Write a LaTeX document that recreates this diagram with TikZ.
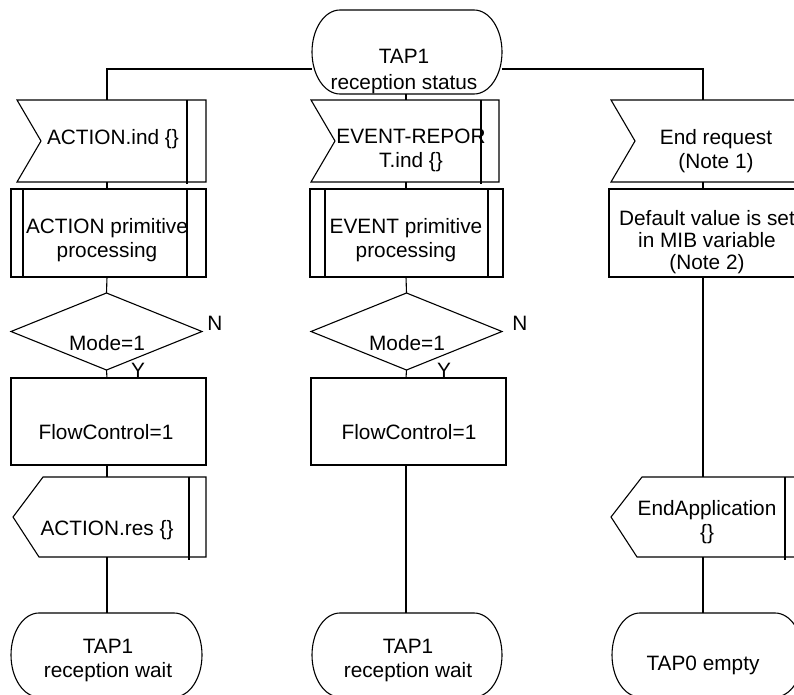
\documentclass[tikz,border=0pt]{standalone}
\usepackage{fontspec}
\setmainfont{Liberation Sans}
\usetikzlibrary{shapes.geometric}

\begin{document}
\begin{tikzpicture}[x=1pt, y=-1pt, line width=1.1pt, line join=miter,
  every node/.style={inner sep=0pt, outer sep=0pt, font=\fontsize{20.8}{24}\selectfont},
  sym/.style={draw=none},
  box/.style={draw},
  term/.style={draw=none, minimum height=84pt},
  dec/.style={draw, diamond, minimum height=77pt},
  txt/.style={align=center}]

  %% ════ 列的竖线位置 ════
  \coordinate (c1) at (107,0);
  \coordinate (c2) at (406,0);
  \coordinate (c3) at (703,0);

  %% ════ 顶部状态 ════
  \node[term, minimum width=190pt] (tap) at (407,52) {};

  %% ════ 第一列 ════
  \node[sym, minimum width=189pt, minimum height=82pt] (sig1) at (111.5,141) {};
  \node[box, minimum width=195pt, minimum height=88pt] (proc1) at (108.5,233) {};
  \node[dec, minimum width=191pt] (dec1) at (106.5,331.5) {};
  \node[box, minimum width=195pt, minimum height=87pt] (task1) at (108.5,421.5) {};
  \node[sym, minimum width=193pt, minimum height=80pt] (out1) at (109.5,517) {};
  \node[term, minimum width=191pt] (end1) at (106.5,655) {};

  %% ════ 第二列 ════
  \node[sym, minimum width=188pt, minimum height=82pt] (sig2) at (405,141) {};
  \node[box, minimum width=193pt, minimum height=88pt] (proc2) at (406.5,233) {};
  \node[dec, minimum width=191pt] (dec2) at (406.5,331.5) {};
  \node[box, minimum width=195pt, minimum height=87pt] (task2) at (408.5,421.5) {};
  \node[term, minimum width=190pt] (end2) at (407,655) {};

  %% ════ 第三列（右边出画布）════
  \node[sym, minimum width=205pt, minimum height=82pt] (sig3) at (713.5,141) {};
  \node[box, minimum width=196pt, minimum height=88pt] (task3) at (707,233) {};
  \node[sym, minimum width=192pt, minimum height=80pt] (out3) at (707,517) {};
  \node[term, minimum width=191pt] (end3) at (707.5,655) {};

  %% ════ 端点（两头是半椭圆）════
  \draw ([xshift=28pt]tap.north west) -- ([xshift=-28pt]tap.north east) arc[start angle=90, end angle=-90, x radius=28pt, y radius=42pt]
        -- ([xshift=28pt]tap.south west) arc[start angle=270, end angle=90, x radius=28pt, y radius=42pt] -- cycle;
  \draw ([xshift=28pt]end1.north west) -- ([xshift=-28pt]end1.north east) arc[start angle=90, end angle=-90, x radius=28pt, y radius=42pt]
        -- ([xshift=28pt]end1.south west) arc[start angle=270, end angle=90, x radius=28pt, y radius=42pt] -- cycle;
  \draw ([xshift=28pt]end2.north west) -- ([xshift=-28pt]end2.north east) arc[start angle=90, end angle=-90, x radius=28pt, y radius=42pt]
        -- ([xshift=28pt]end2.south west) arc[start angle=270, end angle=90, x radius=28pt, y radius=42pt] -- cycle;
  \draw ([xshift=28pt]end3.north west) -- ([xshift=-28pt]end3.north east) arc[start angle=90, end angle=-90, x radius=28pt, y radius=42pt]
        -- ([xshift=28pt]end3.south west) arc[start angle=270, end angle=90, x radius=28pt, y radius=42pt] -- cycle;

  %% ════ 信号符号的外形 ════
  \draw (sig1.north west) -- (sig1.north east) -- (sig1.south east) -- (sig1.south west) -- ([xshift=24pt]sig1.west) -- cycle;
  \draw ([xshift=-19pt]sig1.north east) -- ([xshift=-19pt,yshift=-2pt]sig1.south east);
  \draw (sig2.north west) -- (sig2.north east) -- (sig2.south east) -- (sig2.south west) -- ([xshift=24pt]sig2.west) -- cycle;
  \draw ([xshift=-18pt]sig2.north east) -- ([xshift=-18pt,yshift=-2pt]sig2.south east);
  \draw (sig3.north west) -- (sig3.north east) -- (sig3.south east) -- (sig3.south west) -- ([xshift=24pt]sig3.west) -- cycle;
  \draw (out1.north east) -- (out1.south east) -- ([xshift=26pt]out1.south west) -- (out1.west) -- ([xshift=30pt]out1.north west) -- cycle;
  \draw ([xshift=-17pt]out1.north east) -- ([xshift=-17pt,yshift=-3pt]out1.south east);
  \draw (out3.north east) -- (out3.south east) -- ([xshift=26pt]out3.south west) -- (out3.west) -- ([xshift=31pt]out3.north west) -- cycle;
  \draw ([xshift=-18pt]out3.north east) -- ([xshift=-18pt,yshift=-3pt]out3.south east);

  %% ════ 过程框的内竖线 ════
  \draw ([xshift=12pt]proc1.north west) -- ([xshift=12pt]proc1.south west)
        ([xshift=-19pt]proc1.north east) -- ([xshift=-19pt]proc1.south east);
  \draw ([xshift=15pt]proc2.north west) -- ([xshift=15pt]proc2.south west)
        ([xshift=-15pt]proc2.north east) -- ([xshift=-15pt]proc2.south east);

  %% ════ 连线 ════
  \draw (c1 |- sig1.north) |- ([yshift=-17pt]tap.west);
  \draw (c3 |- sig3.north) |- ([yshift=-17pt]tap.east);
  \draw (c2 |- tap.south) -- (c2 |- sig2.north);

  \draw (c1 |- sig1.south) -- (c1 |- proc1.north);
  \draw (c1 |- proc1.south) -- (dec1.north);
  \draw (dec1.south) -- (c1 |- task1.north);
  \draw (c1 |- task1.south) -- (c1 |- out1.north);
  \draw (c1 |- out1.south) -- (c1 |- end1.north);

  \draw (c2 |- sig2.south) -- (c2 |- proc2.north);
  \draw (c2 |- proc2.south) -- (dec2.north);
  \draw (dec2.south) -- (c2 |- task2.north);
  \draw (c2 |- task2.south) -- (c2 |- end2.north);

  \draw (c3 |- sig3.south) -- (c3 |- task3.north);
  \draw (c3 |- task3.south) -- (c3 |- out3.north);
  \draw (c3 |- out3.south) -- (c3 |- end3.north);

  %% ════ 文字 ════
  \node[txt, font=\fontsize{20.8}{26}\selectfont] (tapT) at (404,72) {TAP1\\reception status};

  \node[txt] (sig1T) at (113,139.5) {ACTION.ind \{\}};
  \node[txt] (proc1T) at (107,240) {ACTION primitive\\processing};
  \node[txt] (dec1T) at (107,343) {Mode=1};
  \node (n1) at (215,323) {N};
  \node (y1) at (138,370) {Y};
  \node[txt] (task1T) at (106,432) {FlowControl=1};
  \node[txt] (out1T) at (107,530) {ACTION.res \{\}};
  \node[txt] (end1T) at (108,660) {TAP1\\reception wait};

  \node[txt] (sig2T) at (411,150) {EVENT-REPOR\\T.ind \{\}};
  \node[txt] (proc2T) at (406,240) {EVENT primitive\\processing};
  \node[txt] (dec2T) at (407,343) {Mode=1};
  \node (n2) at (520,323) {N};
  \node (y2) at (444,370) {Y};
  \node[txt] (task2T) at (409,432) {FlowControl=1};
  \node[txt] (end2T) at (408,660) {TAP1\\reception wait};

  \node[txt] (sig3T) at (716,151) {End request\\(Note 1)};
  \node[txt, font=\fontsize{20.8}{22}\selectfont] (task3T) at (707,242) {Default value is set\\in MIB variable\\(Note 2)};
  \node[txt] (out3T) at (707,522) {EndApplication\\\{\}};
  \node[txt] (end3T) at (703,665) {TAP0 empty};

  % 钉死画布
  \pgfresetboundingbox
  \path[use as bounding box] (0,0) rectangle (794,695);
\end{tikzpicture}
\end{document}
